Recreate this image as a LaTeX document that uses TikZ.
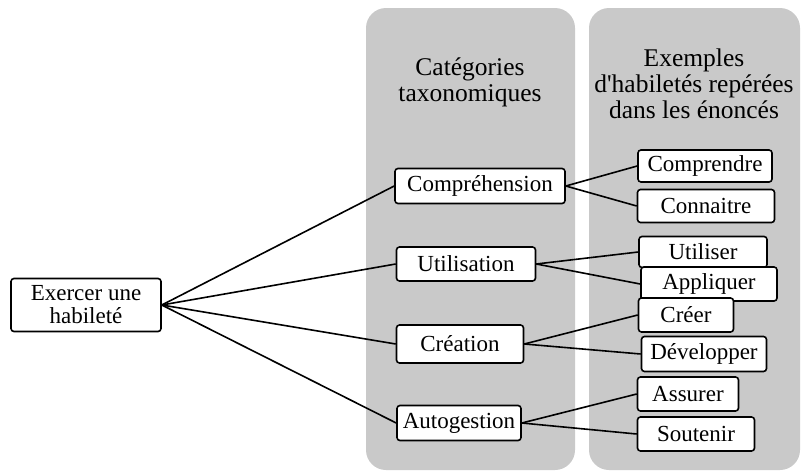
\documentclass[tikz,border=0pt]{standalone}
\usepackage{fontspec}
\setmainfont{Liberation Serif}
\definecolor{panelgray}{RGB}{201,201,201}
\tikzset{
	panel/.style={fill=panelgray, rounded corners=20pt},
	head/.style={align=center, font=\fontsize{25.5}{26}\selectfont},
	box/.style={draw, fill=white, line width=1.6pt, rounded corners=3pt, inner sep=0pt,
		font=\fontsize{23}{23}\selectfont, align=center},
	link/.style={line width=1.6pt}
}

\begin{document}
\begin{tikzpicture}[x=1pt,y=-1pt]
	\useasboundingbox (0,0) rectangle (801,472);
	\fill [panel] (366,8) rectangle (575,470);
	\fill [panel] (589,8) rectangle (800,470);
	\node [head] (hcat) at (470,82) {Catégories\\taxonomiques};
	\node [head] (hex) at (694,84) {Exemples\\d\textquotesingle habiletés repérées\\dans les énoncés};

	\node [box, minimum width=150pt, minimum height=53pt] (ex) at (86,305) {Exercer une\\habileté};

	\node [box, minimum width=170pt, minimum height=35pt] (compr) at (480,186) {Compréhension};
	\node [box, minimum width=139pt, minimum height=34pt] (util) at (466,264) {Utilisation};
	\node [box, minimum width=127pt, minimum height=38pt] (crea) at (460,344) {Création};
	\node [box, minimum width=124pt, minimum height=35pt] (autog) at (459,423) {Autogestion};

	\node [box, minimum width=134pt, minimum height=32pt] (comprendre) at (705,166) {Comprendre};
	\node [box, minimum width=137pt, minimum height=33pt] (connaitre) at (706,206) {Connaitre};
	\node [box, minimum width=128pt, minimum height=31pt] (utiliser) at (703,252) {Utiliser};
	\node [box, minimum width=136pt, minimum height=34pt] (appliquer) at (709,284) {Appliquer};
	\node [box, minimum width=95pt, minimum height=34pt] (creer) at (686,315) {Créer};
	\node [box, minimum width=125pt, minimum height=35pt] (develop) at (704,354) {Développer};
	\node [box, minimum width=101pt, minimum height=34pt] (assurer) at (688,394) {Assurer};
	\node [box, minimum width=117pt, minimum height=34pt] (soutenir) at (696,434) {Soutenir};

	\foreach \c in {compr,util,crea,autog}
		\draw [link] (ex.east) -- (\c.west);
	\draw [link] (compr.east) -- (comprendre.west);
	\draw [link] (compr.east) -- (connaitre.west);
	\draw [link] (util.east) -- (utiliser.west);
	\draw [link] (util.east) -- (appliquer.west);
	\draw [link] (crea.east) -- (creer.west);
	\draw [link] (crea.east) -- (develop.west);
	\draw [link] (autog.east) -- (assurer.west);
	\draw [link] (autog.east) -- (soutenir.west);
\end{tikzpicture}
\end{document}
